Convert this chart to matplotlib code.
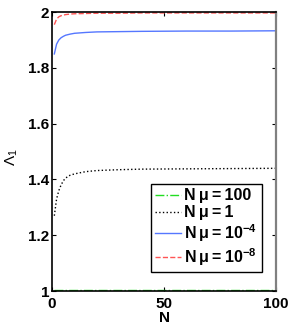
import matplotlib.pyplot as plt

plt.rcParams['font.family'] = ['Liberation Sans', 'DejaVu Sans']
plt.rcParams['mathtext.fontset'] = 'custom'
plt.rcParams['mathtext.rm'] = 'Liberation Sans'
plt.rcParams['mathtext.bf'] = 'Liberation Sans:bold'
plt.rcParams['mathtext.default'] = 'bf'

# Estimated curves
N = [1, 2, 3, 4, 5, 6, 8, 10, 15, 20, 30, 40, 60, 80, 100]
lam_100 = [1.002] * len(N)
lam_1 = [1.27, 1.33, 1.36, 1.38, 1.395, 1.405, 1.415, 1.42, 1.428, 1.432, 1.435, 1.437, 1.438, 1.439, 1.44]
lam_1e4 = [1.85, 1.885, 1.90, 1.908, 1.913, 1.917, 1.921, 1.924, 1.927, 1.929, 1.930, 1.931, 1.932, 1.932, 1.933]
lam_1e8 = [1.955, 1.975, 1.983, 1.987, 1.989, 1.991, 1.993, 1.994, 1.995, 1.996, 1.996, 1.997, 1.997, 1.997, 1.997]

sp = "\u2009"
labels = ["N" + sp + "\u03bc" + sp + "=" + sp + "100",
          "N" + sp + "\u03bc" + sp + "=" + sp + "1",
          "N" + sp + "\u03bc" + sp + "=" + sp + "$10^{-4}$",
          "N" + sp + "\u03bc" + sp + "=" + sp + "$10^{-8}$"]

fig = plt.figure(figsize=(2.91, 3.27), dpi=100)
ax = fig.add_axes([0.179, 0.110, 0.770, 0.853])

ax.plot(N, lam_100, color="#22dd22", linestyle="-.", linewidth=1, label=labels[0])
ax.plot(N, lam_1, color="black", linestyle=":", linewidth=1, label=labels[1])
ax.plot(N, lam_1e4, color="#5577ff", linestyle="-", linewidth=1, label=labels[2])
ax.plot(N, lam_1e8, color="#ff5555", linestyle="--", linewidth=1, label=labels[3])

ax.set_xlim(0, 100)
ax.set_ylim(1, 2)
ax.set_xticks([0, 50, 100])
ax.set_yticks([1, 1.2, 1.4, 1.6, 1.8, 2])
ax.set_yticklabels(["1", "1.2", "1.4", "1.6", "1.8", "2"])
ax.tick_params(direction="in", top=True, right=True, length=3, labelsize=11, pad=2)
ax.tick_params(axis="x", pad=4)
for lab in ax.get_xticklabels() + ax.get_yticklabels():
    lab.set_fontweight("bold")

ax.set_xlabel("N", fontsize=11, fontweight="bold", labelpad=0)
ax.set_ylabel(r"$\mathrm{\Lambda_1}$", fontsize=11)
ax.yaxis.set_label_coords(-0.145, 0.48)

for s in ax.spines.values():
    s.set_linewidth(1.2)
ax.spines["right"].set_color("gray")
ax.spines["right"].set_linewidth(1.6)

leg = ax.legend(loc="lower right", bbox_to_anchor=(0.935, 0.068), borderaxespad=0,
                fancybox=False, edgecolor="black", framealpha=1,
                prop={"weight": "bold", "size": 11.5}, handlelength=1.6,
                handletextpad=0.23, labelspacing=0.12, borderpad=0.28)
leg.get_frame().set_linewidth(1.0)

plt.savefig("out.png", dpi=100)
